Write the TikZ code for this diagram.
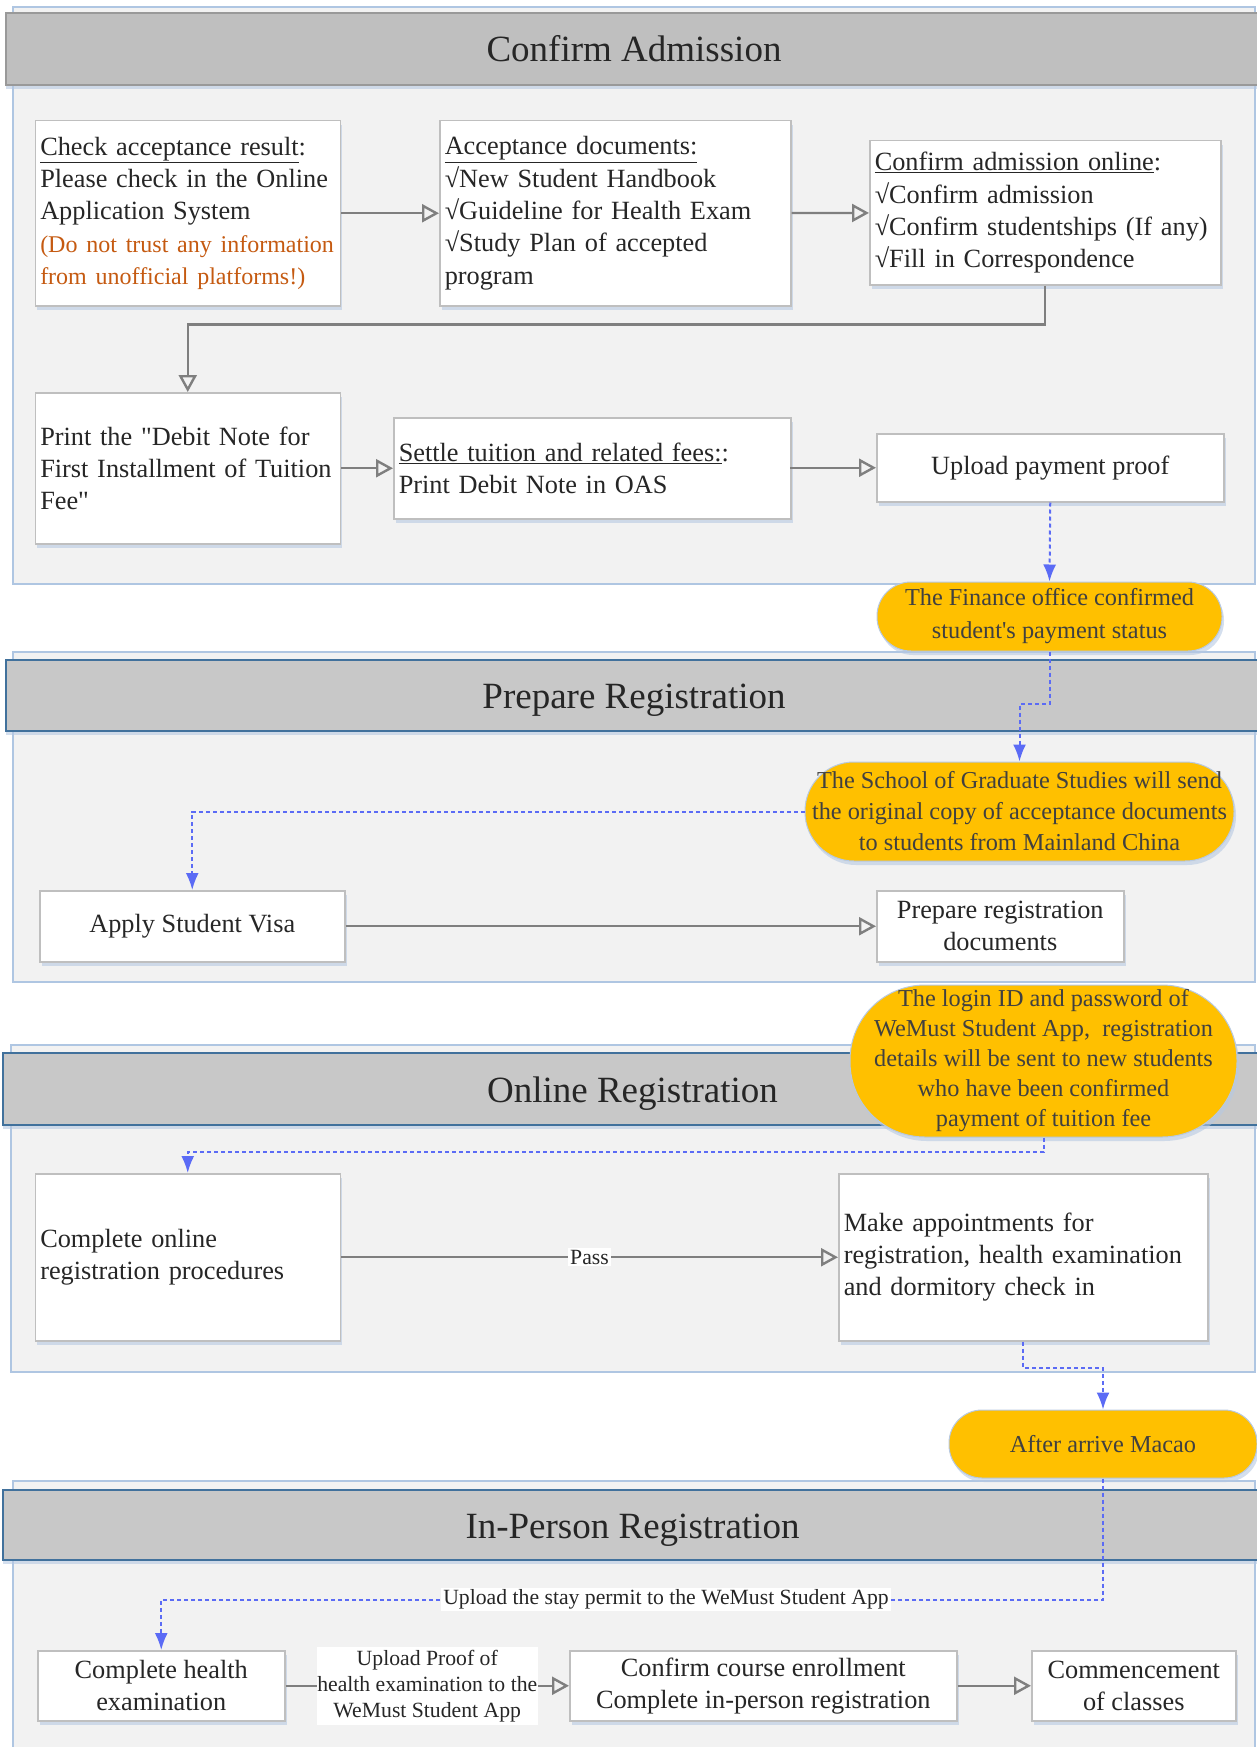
\documentclass[tikz,border=0pt]{standalone}
\usepackage{fontspec}
\setmainfont{Liberation Serif}
\newfontfamily\straightserif{Liberation Serif}
\usetikzlibrary{arrows.meta,shadows}

\definecolor{panelfill}{HTML}{F2F2F2}
\definecolor{paneledge}{HTML}{AFC6E2}
\definecolor{bandfill}{HTML}{C8C8C8}
\definecolor{bandfirst}{HTML}{BFBFBF}
\definecolor{bandedge}{HTML}{41719C}
\definecolor{boxedge}{HTML}{BFBFBF}
\definecolor{bodytext}{HTML}{262626}
\definecolor{warnorange}{HTML}{C55A11}
\definecolor{noteyellow}{HTML}{FFC000}
\definecolor{notetext}{HTML}{404040}
\definecolor{flowblue}{RGB}{91,107,245}
\definecolor{flowgray}{HTML}{7F7F7F}
\definecolor{shadowblue}{HTML}{B7C9E2}

\newcommand{\warn}[1]{\mbox{\color{warnorange}\fontsize{24}{32.3}\selectfont #1}}
\newcommand{\sq}[1]{{\straightserif #1}}

\tikzset{>={Triangle[open,length=17pt,width=18pt]}}

\begin{document}
\begin{tikzpicture}[x=1pt,y=-1pt,
    panel/.style={fill=panelfill, draw=paneledge, line width=2pt},
    band/.style={fill=bandfill, draw=bandedge, line width=2.5pt, minimum width=1256pt,
        minimum height=71pt, text height=26pt, text depth=0pt, text=bodytext,
        font=\fontsize{37}{44}\selectfont,
        drop shadow={shadow xshift=0pt, shadow yshift=-4pt, fill=shadowblue, opacity=0.6}},
    stepbox/.style={draw=boxedge, fill=white, line width=1.5pt, anchor=north west,
        inner xsep=5pt, inner ysep=0pt, text=bodytext, font=\fontsize{26.3}{32.3}\selectfont,
        drop shadow={shadow xshift=2pt, shadow yshift=-4pt, fill=shadowblue, opacity=0.6}},
    notebubble/.style={rectangle, rounded corners=#1, fill=noteyellow, draw=shadowblue, line width=1pt,
        text=notetext, align=center, inner sep=0pt, font=\fontsize{24.3}{31}\selectfont,
        drop shadow={shadow xshift=2pt, shadow yshift=-4pt, fill=shadowblue, opacity=0.6}},
    stepflow/.style={draw=flowgray, line width=2.4pt, ->},
    noteflow/.style={draw=flowblue, line width=2pt, dash pattern=on 4pt off 3pt,
        -{Latex[length=17pt,width=13pt]}},
    flowlabel/.style={fill=white, text=bodytext, inner sep=2pt, font=\fontsize{21.7}{26}\selectfont}
]
\useasboundingbox (0,0) rectangle (1257,1747);

% Section panels
\draw[panel] (13,7) rectangle (1255,584);
\draw[panel] (13,652) rectangle (1255,982);
\draw[panel] (11,1045) rectangle (1255,1372);
\draw[panel] (13,1481) rectangle (1255,1775);

% Section headers
\node[band, fill=bandfirst, draw=boxedge!80!black, line width=1.5pt, minimum height=72pt] (hdradmit) at (634,49) {Confirm Admission};
\node[band] (hdrprep) at (634,695.5) {Prepare Registration};
\node[band, minimum width=1259pt, minimum height=72pt] (hdronline) at (632.5,1089) {Online Registration};
\node[band, minimum width=1259pt, minimum height=70pt] (hdrperson) at (632.5,1525) {In-Person Registration};

% Confirm Admission steps
\node[stepbox, minimum width=305pt, minimum height=185pt, text width=295pt, align=left] (chk) at (34.5,120)
    {\underline{Check acceptance result}:\\Please check in the Online\\Application System\\\warn{(Do not trust any information}\\\warn{from unofficial platforms!)}};
\node[stepbox, minimum width=351pt, minimum height=185pt, text width=341pt, align=left] (accdocs) at (439,120)
    {\underline{Acceptance documents:}\\√New Student Handbook\\√Guideline for Health Exam\\√Study Plan of accepted\\program};
\node[stepbox, minimum width=351pt, minimum height=144pt, text width=341pt, align=left] (cfmonline) at (869,140)
    {\underline{Confirm admission online}:\\√Confirm admission\\√Confirm studentships (If any)\\√Fill in Correspondence};
\node[stepbox, minimum width=305pt, minimum height=151pt, text width=295pt, align=left] (debit) at (34.5,392)
    {Print the \sq{"}Debit Note for\\First Installment of Tuition\\Fee\sq{"}};
\node[stepbox, minimum width=397pt, minimum height=101pt, text width=387pt, align=left] (settle) at (393,417)
    {\underline{Settle tuition and related fees:}:\\Print Debit Note in OAS};
\node[stepbox, minimum width=347pt, minimum height=68pt, align=center] (payproof) at (876,433)
    {Upload payment proof};

% Notes in yellow
\node[notebubble=34pt, minimum width=345pt, minimum height=69pt, font=\fontsize{24.3}{33}\selectfont] (finance) at (1049.5,616.5)
    {The Finance office confirmed\\student\sq{'}s payment status};
\node[notebubble=49pt, minimum width=429pt, minimum height=99pt] (sgs) at (1019.5,811.5)
    {The School of Graduate Studies will send\\the original copy of acceptance documents\\to students from Mainland China};
\node[notebubble=75pt, minimum width=387pt, minimum height=152pt, font=\fontsize{24.3}{30}\selectfont] (login) at (1043.5,1061)
    {The login ID and password of\\WeMust Student App,~ registration\\details will be sent to new students\\who have been confirmed\\payment of tuition fee};
\node[notebubble=33pt, minimum width=308pt, minimum height=68pt] (arrive) at (1103,1444)
    {After arrive Macao};

% Prepare Registration steps
\node[stepbox, minimum width=305pt, minimum height=71pt, align=center] (visa) at (39,890) {Apply Student Visa};
\node[stepbox, minimum width=247pt, minimum height=71pt, align=center] (regdocs) at (876,890) {Prepare registration\\documents};

% Online Registration steps
\node[stepbox, minimum width=305pt, minimum height=167pt, text width=295pt, align=left] (onlinereg) at (34.5,1173)
    {Complete online\\registration procedures};
\node[stepbox, minimum width=369pt, minimum height=167pt, text width=359pt, align=left] (appoint) at (838,1173)
    {Make appointments for\\registration, health examination\\and dormitory check in};

% In-Person Registration steps
\node[stepbox, minimum width=247pt, minimum height=70pt, align=center] (health) at (37,1650) {Complete health\\examination};
\node[stepbox, minimum width=387pt, minimum height=70pt, align=center] (enrol) at (569,1650) {Confirm course enrollment\\Complete in-person registration};
\node[stepbox, minimum width=204pt, minimum height=70pt, align=center] (classes) at (1031,1650) {Commencement\\of classes};

% Gray arrows between steps
\draw[stepflow] (chk) -- (accdocs);
\draw[stepflow] (accdocs) -- (cfmonline);
\draw[stepflow] (cfmonline.south) -- ++(0,39) -| (debit.north);
\draw[stepflow] (debit.east |- settle.west) -- (settle.west);
\draw[stepflow] (settle.east) -- (payproof.west -| settle.east) -- (payproof.west);
\draw[stepflow] (visa) -- (regdocs);
\draw[stepflow] (onlinereg) -- (appoint) node[midway, flowlabel] {Pass};
\draw[stepflow] (health) -- (enrol)
    node[midway, flowlabel, align=center, minimum width=221pt, minimum height=78pt, inner sep=0pt]
    {Upload Proof of\\health examination to the\\WeMust Student App};
\draw[stepflow] (enrol) -- (classes);

% Blue dashed arrows through the notes
\draw[noteflow] (payproof.south) -- (finance.north);
\draw[noteflow] (finance.south) -- ++(0,52) -| (sgs.north);
\draw[noteflow] (sgs.west) -| (visa.north);
\draw[noteflow] (login.south) -- ++(0,14) -| (onlinereg.north);
\draw[noteflow] (appoint.south) -- ++(0,26) -| (arrive.north);
\draw[noteflow] (arrive.south) -- ++(0,121) -| (health.north)
    node[pos=0.232, flowlabel] {Upload the stay permit to the WeMust Student App};

\end{tikzpicture}
\end{document}
